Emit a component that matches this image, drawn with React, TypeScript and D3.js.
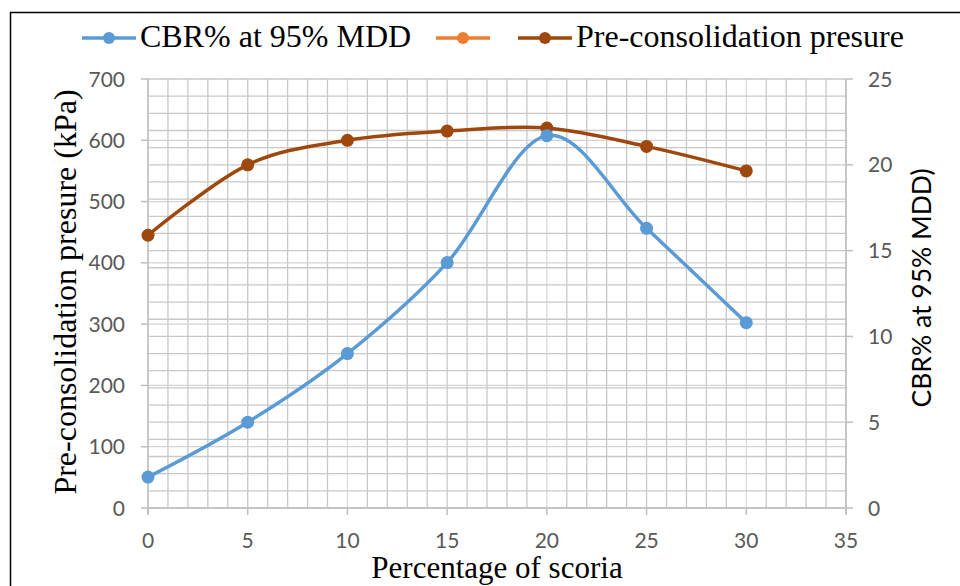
import React, { useEffect, useRef } from 'react';
import * as d3 from 'd3';

const scoria = [0, 5, 10, 15, 20, 25, 30];
const cbrValues = [1.8, 5, 9, 14.3, 21.7, 16.3, 10.8];
const pressureValues = [445, 560, 600, 615, 620, 590, 550];
const leftTicks = [0, 100, 200, 300, 400, 500, 600, 700];
const rightTicks = [0, 5, 10, 15, 20, 25];
const xTicks = [0, 5, 10, 15, 20, 25, 30, 35];

const width = 960;
const height = 586;
const serif = '"Liberation Serif", "Times New Roman", serif';
const sans = 'Lato, "Open Sans", sans-serif';
const blue = '#5b9bd5';
const orange = '#ed7d31';
const brown = '#9e480e';

export default function App() {
  const svgRef = useRef<SVGSVGElement>(null);

  useEffect(() => {
    if (!svgRef.current) return;
    const svg = d3.select(svgRef.current);
    svg.selectAll('*').remove();

    const plot = { left: 148, right: 846, top: 79, bottom: 508 };

    const x = d3.scaleLinear().domain([0, 35]).range([plot.left, plot.right]);
    const yLeft = d3.scaleLinear().domain([0, 700]).range([plot.bottom, plot.top]);
    const yRight = d3.scaleLinear().domain([0, 25]).range([plot.bottom, plot.top]);

    // outer frame (top and left edges visible)
    svg.append('path')
      .attr('d', `M10.5,${height} V12.5 H${width}`)
      .attr('fill', 'none')
      .attr('stroke', '#000')
      .attr('stroke-width', 1.5);

    // gridlines
    const grid = svg.append('g');
    d3.range(0, 36, 1).forEach(v => {
      grid.append('line')
        .attr('x1', x(v)).attr('x2', x(v))
        .attr('y1', plot.top).attr('y2', plot.bottom)
        .attr('stroke', v % 10 === 0 ? '#dcdcdc' : '#c8c8c8')
        .attr('stroke-width', 1.3);
    });
    d3.range(0, 26, 1).forEach(v => {
      grid.append('line')
        .attr('x1', plot.left).attr('x2', plot.right)
        .attr('y1', yRight(v)).attr('y2', yRight(v))
        .attr('stroke', '#c8c8c8')
        .attr('stroke-width', 1.3);
    });
    leftTicks.forEach(v => {
      grid.append('line')
        .attr('x1', plot.left).attr('x2', plot.right)
        .attr('y1', yLeft(v)).attr('y2', yLeft(v))
        .attr('stroke', '#d4d4d4')
        .attr('stroke-width', 1.3);
    });

    // axes
    const axisColor = '#bfbfbf';
    const axes = svg.append('g').attr('stroke', axisColor).attr('stroke-width', 1.5);
    axes.append('line').attr('x1', plot.left).attr('x2', plot.left).attr('y1', plot.top).attr('y2', plot.bottom + 6);
    axes.append('line').attr('x1', plot.right).attr('x2', plot.right).attr('y1', plot.top).attr('y2', plot.bottom + 6);
    axes.append('line').attr('x1', plot.left).attr('x2', plot.right).attr('y1', plot.bottom).attr('y2', plot.bottom);
    leftTicks.forEach(v => {
      axes.append('line').attr('x1', plot.left - 7).attr('x2', plot.left).attr('y1', yLeft(v)).attr('y2', yLeft(v));
    });
    rightTicks.forEach(v => {
      axes.append('line').attr('x1', plot.right).attr('x2', plot.right + 7).attr('y1', yRight(v)).attr('y2', yRight(v));
    });
    xTicks.forEach(v => {
      axes.append('line').attr('x1', x(v)).attr('x2', x(v)).attr('y1', plot.bottom).attr('y2', plot.bottom + 7);
    });

    // tick labels
    const tickStyle = (sel: d3.Selection<SVGTextElement, unknown, null, undefined>) =>
      sel.attr('font-family', sans).attr('font-size', 21).attr('fill', '#595959');

    leftTicks.forEach(v => {
      svg.append('text')
        .attr('x', 125).attr('y', yLeft(v) + 7.5)
        .attr('text-anchor', 'end')
        .text(v)
        .call(tickStyle);
    });
    rightTicks.forEach(v => {
      svg.append('text')
        .attr('x', 868).attr('y', yRight(v) + 7.5)
        .attr('text-anchor', 'start')
        .text(v)
        .call(tickStyle);
    });
    xTicks.forEach(v => {
      svg.append('text')
        .attr('x', x(v)).attr('y', 548)
        .attr('text-anchor', 'middle')
        .text(v)
        .call(tickStyle);
    });

    // axis titles
    svg.append('text')
      .attr('transform', `translate(76,292) rotate(-90)`)
      .attr('text-anchor', 'middle')
      .attr('font-family', serif)
      .attr('font-size', 32)
      .attr('fill', '#000')
      .text('Pre-consolidation presure (kPa)');

    svg.append('text')
      .attr('transform', `translate(931,288) rotate(-90)`)
      .attr('text-anchor', 'middle')
      .attr('font-family', sans)
      .attr('font-size', 26.5)
      .attr('fill', '#000')
      .text('CBR% at 95% MDD)');

    svg.append('text')
      .attr('x', 497).attr('y', 578)
      .attr('text-anchor', 'middle')
      .attr('font-family', serif)
      .attr('font-size', 31)
      .attr('fill', '#000')
      .text('Percentage of scoria');

    // series
    const curve = d3.curveCardinal.tension(0);
    const cbrData = scoria.map((s, i) => ({ x: s, y: cbrValues[i] }));
    const pressureData = scoria.map((s, i) => ({ x: s, y: pressureValues[i] }));

    const cbrLine = d3.line<{ x: number; y: number }>()
      .x(d => x(d.x)).y(d => yRight(d.y)).curve(curve);
    const pressureLine = d3.line<{ x: number; y: number }>()
      .x(d => x(d.x)).y(d => yLeft(d.y)).curve(curve);

    svg.append('path')
      .datum(pressureData)
      .attr('fill', 'none')
      .attr('stroke', brown)
      .attr('stroke-width', 3.5)
      .attr('d', pressureLine);
    svg.append('g').selectAll('circle')
      .data(pressureData)
      .join('circle')
      .attr('cx', d => x(d.x)).attr('cy', d => yLeft(d.y))
      .attr('r', 6.5)
      .attr('fill', brown);

    svg.append('path')
      .datum(cbrData)
      .attr('fill', 'none')
      .attr('stroke', blue)
      .attr('stroke-width', 3.5)
      .attr('d', cbrLine);
    svg.append('g').selectAll('circle')
      .data(cbrData)
      .join('circle')
      .attr('cx', d => x(d.x)).attr('cy', d => yRight(d.y))
      .attr('r', 6.5)
      .attr('fill', blue);

    // legend
    const legendItems = [
      { color: blue, label: 'CBR% at 95% MDD', x0: 82 },
      { color: orange, label: '', x0: 436 },
      { color: brown, label: 'Pre-consolidation presure', x0: 518 },
    ];
    legendItems.forEach(item => {
      const g = svg.append('g');
      g.append('line')
        .attr('x1', item.x0).attr('x2', item.x0 + 54)
        .attr('y1', 38).attr('y2', 38)
        .attr('stroke', item.color)
        .attr('stroke-width', 3.5);
      g.append('circle')
        .attr('cx', item.x0 + 27).attr('cy', 38)
        .attr('r', 6)
        .attr('fill', item.color);
      if (item.label) {
        g.append('text')
          .attr('x', item.x0 + 58).attr('y', 47)
          .attr('font-family', serif)
          .attr('font-size', 32)
          .attr('fill', '#000')
          .text(item.label);
      }
    });
  }, []);

  return (
    <svg
      ref={svgRef}
      width={width}
      height={height}
      style={{ position: 'absolute', left: 0, top: 0, background: '#fff' }}
    />
  );
}
